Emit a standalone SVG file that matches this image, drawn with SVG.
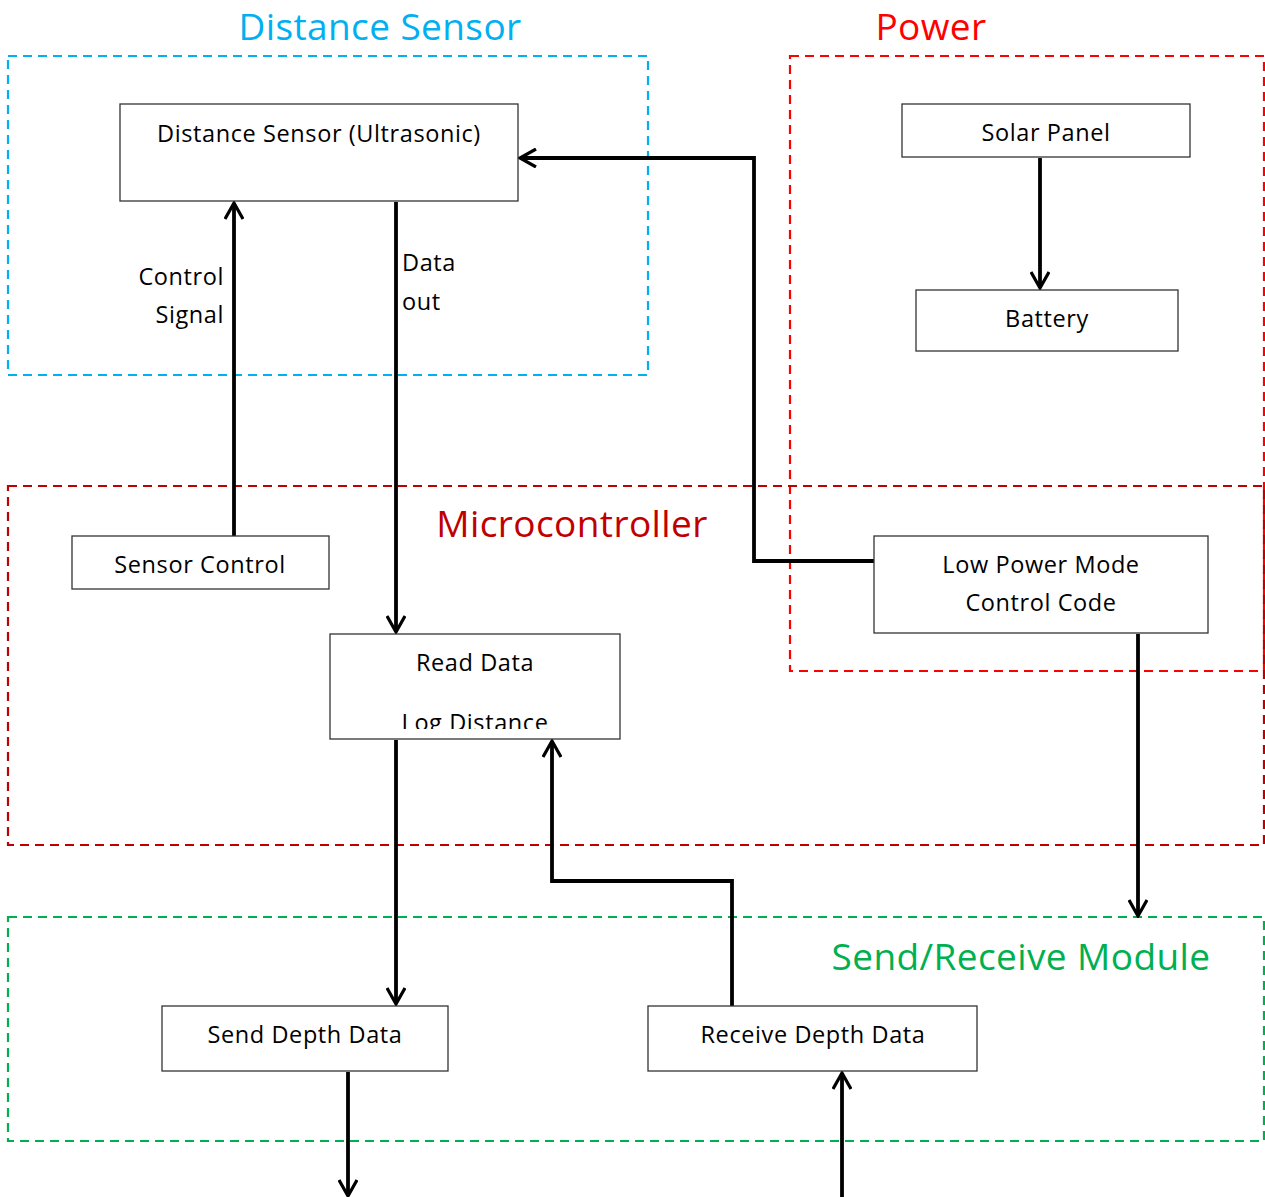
<svg xmlns="http://www.w3.org/2000/svg" width="1265" height="1197" viewBox="0 0 1265 1197">
  <style>
    text { font-family: "Open Sans", "Noto Sans", "Liberation Sans", sans-serif; }
    .box { fill: #fff; stroke: #333; stroke-width: 1.3; }
    .lbl { font-size: 23.5px; letter-spacing: 0.6px; fill: #000; text-anchor: middle; }
    .side { font-size: 23.5px; letter-spacing: 0.6px; fill: #000; }
    .grp { fill: none; stroke-width: 2.2; stroke-dasharray: 9 6; }
    .title { font-size: 37px; letter-spacing: 0.4px; text-anchor: middle; }
    .wire { fill: none; stroke: #000; stroke-width: 3.8; }
  </style>
  <defs>
    <marker id="arr" viewBox="0 0 20 20" refX="18" refY="10" markerWidth="20" markerHeight="20" markerUnits="userSpaceOnUse" orient="auto">
      <path d="M2,1 L18,10 L2,19" fill="none" stroke="#000" stroke-width="3.2"/>
    </marker>
    <clipPath id="readClip"><rect x="330" y="634" width="290" height="95"/></clipPath>
  </defs>
  <rect width="1265" height="1197" fill="#fff"/>

  <!-- group frames -->
  <g id="group-distance-sensor">
    <rect class="grp" x="8" y="56" width="640" height="319" stroke="#00B0F0"/>
    <text class="title" x="380" y="40" fill="#00B0F0">Distance Sensor</text>
  </g>
  <g id="group-power">
    <rect class="grp" x="790" y="56" width="474" height="615" stroke="#FF0000"/>
    <text class="title" x="931" y="40" fill="#FF0000">Power</text>
  </g>
  <g id="group-microcontroller">
    <rect class="grp" x="8" y="486" width="1256" height="359" stroke="#C00000"/>
    <text class="title" x="572" y="537" fill="#C00000">Microcontroller</text>
  </g>
  <g id="group-send-receive">
    <rect class="grp" x="8" y="917" width="1256" height="224" stroke="#00B050"/>
    <text class="title" x="1021" y="970" fill="#00B050">Send/Receive Module</text>
  </g>

  <!-- connectors -->
  <g id="connectors">
    <line class="wire" x1="234" y1="536" x2="234" y2="203" marker-end="url(#arr)"/>
    <line class="wire" x1="396" y1="202" x2="396" y2="632" marker-end="url(#arr)"/>
    <polyline class="wire" points="874,561 754,561 754,158 520,158" marker-end="url(#arr)"/>
    <line class="wire" x1="1040" y1="158" x2="1040" y2="288" marker-end="url(#arr)"/>
    <line class="wire" x1="396" y1="740" x2="396" y2="1004" marker-end="url(#arr)"/>
    <polyline class="wire" points="732,1006 732,881 552,881 552,741" marker-end="url(#arr)"/>
    <line class="wire" x1="1138" y1="634" x2="1138" y2="916" marker-end="url(#arr)"/>
    <line class="wire" x1="348" y1="1072" x2="348" y2="1196" marker-end="url(#arr)"/>
    <line class="wire" x1="842" y1="1197" x2="842" y2="1073" marker-end="url(#arr)"/>
    <text class="side" x="224" y="285" text-anchor="end">Control</text>
    <text class="side" x="224" y="323" text-anchor="end">Signal</text>
    <text class="side" x="402" y="271">Data</text>
    <text class="side" x="402" y="310">out</text>
  </g>

  <!-- nodes -->
  <g id="node-distance-sensor">
    <rect class="box" x="120" y="104" width="398" height="97"/>
    <text class="lbl" x="319" y="142">Distance Sensor (Ultrasonic)</text>
  </g>
  <g id="node-solar-panel">
    <rect class="box" x="902" y="104" width="288" height="53"/>
    <text class="lbl" x="1046" y="141">Solar Panel</text>
  </g>
  <g id="node-battery">
    <rect class="box" x="916" y="290" width="262" height="61"/>
    <text class="lbl" x="1047" y="327">Battery</text>
  </g>
  <g id="node-sensor-control">
    <rect class="box" x="72" y="536" width="257" height="53"/>
    <text class="lbl" x="200" y="573">Sensor Control</text>
  </g>
  <g id="node-read-data">
    <rect class="box" x="330" y="634" width="290" height="105"/>
    <text class="lbl" x="475" y="671">Read Data</text>
    <text class="lbl" x="475" y="731" clip-path="url(#readClip)">Log Distance</text>
  </g>
  <g id="node-low-power">
    <rect class="box" x="874" y="536" width="334" height="97"/>
    <text class="lbl" x="1041" y="573">Low Power Mode</text>
    <text class="lbl" x="1041" y="611">Control Code</text>
  </g>
  <g id="node-send-depth">
    <rect class="box" x="162" y="1006" width="286" height="65"/>
    <text class="lbl" x="305" y="1043">Send Depth Data</text>
  </g>
  <g id="node-receive-depth">
    <rect class="box" x="648" y="1006" width="329" height="65"/>
    <text class="lbl" x="813" y="1043">Receive Depth Data</text>
  </g>
</svg>
